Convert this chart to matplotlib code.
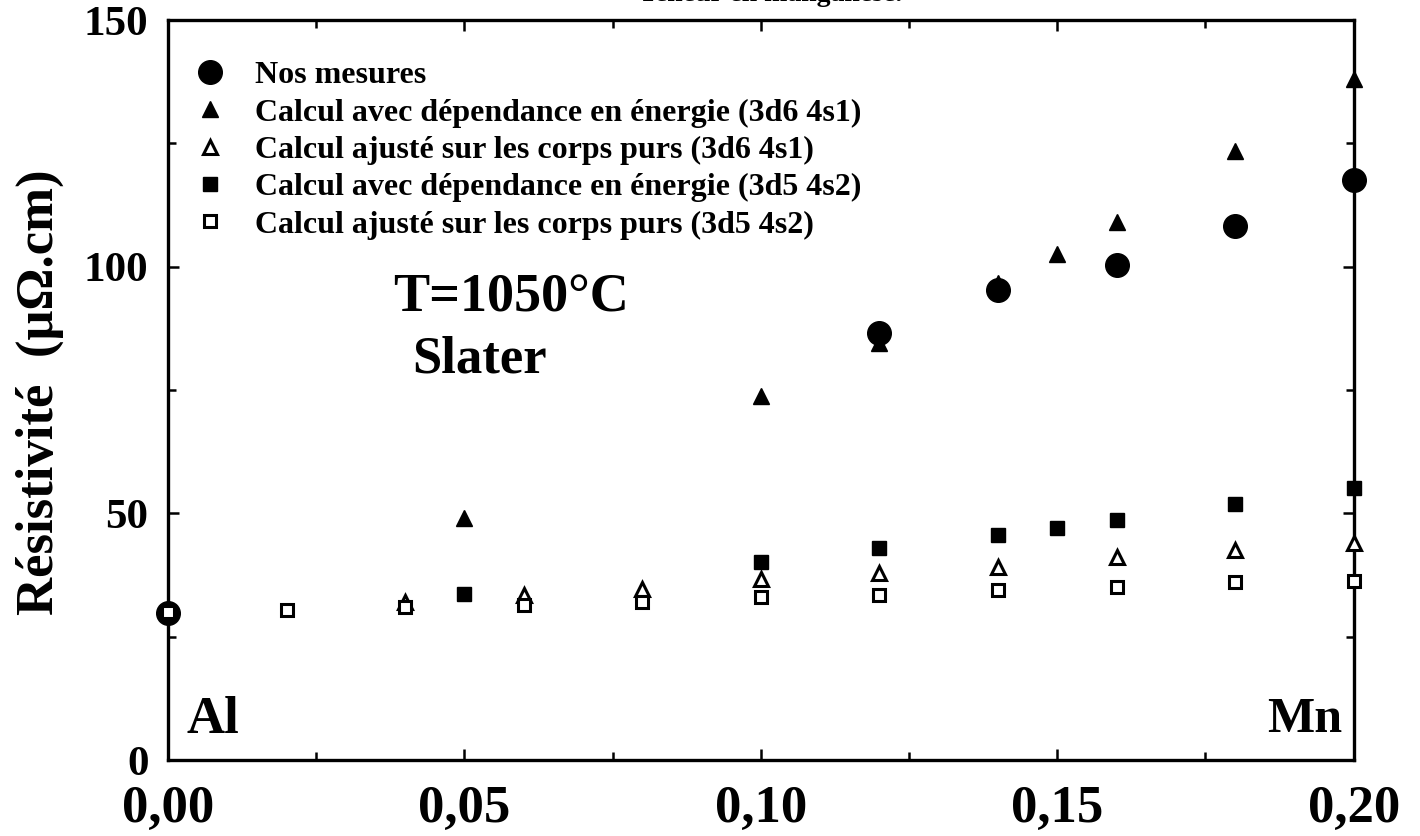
import numpy as np
import matplotlib
matplotlib.use('Agg')
import matplotlib.pyplot as plt
from matplotlib.ticker import MultipleLocator

plt.rcParams['font.family'] = ['Liberation Serif', 'DejaVu Serif']
plt.rcParams['font.weight'] = 'bold'

# Mn fraction and resistivity values (micro-ohm.cm)
mes_x = [0.0, 0.12, 0.14, 0.16, 0.18, 0.20]
mes_y = [29.8, 86.6, 95.3, 100.3, 108.3, 117.6]

e61_x = [0.05, 0.10, 0.12, 0.14, 0.15, 0.16, 0.18, 0.20]
e61_y = [49.1, 73.8, 84.5, 96.8, 102.6, 109.0, 123.5, 138.0]

a61_x = [0.04, 0.06, 0.08, 0.10, 0.12, 0.14, 0.16, 0.18, 0.20]
a61_y = [32.0, 33.4, 34.7, 36.7, 37.9, 39.1, 41.1, 42.6, 44.0]

e52_x = [0.05, 0.10, 0.12, 0.14, 0.15, 0.16, 0.18, 0.20]
e52_y = [33.6, 40.1, 43.0, 45.6, 47.0, 48.7, 52.0, 55.1]

a52_x = [0.0, 0.02, 0.04, 0.06, 0.08, 0.10, 0.12, 0.14, 0.16, 0.18, 0.20]
a52_y = [30.0, 30.4, 31.0, 31.4, 32.0, 33.0, 33.4, 34.5, 35.0, 36.1, 36.3]

labels = ['Nos mesures',
          'Calcul avec dépendance en énergie (3d6 4s1)',
          'Calcul ajusté sur les corps purs (3d6 4s1)',
          'Calcul avec dépendance en énergie (3d5 4s2)',
          'Calcul ajusté sur les corps purs (3d5 4s2)']

xticks = [0.0, 0.05, 0.10, 0.15, 0.20]
xticklabels = ['0,00', '0,05', '0,10', '0,15', '0,20']
yticks = [0, 50, 100, 150]

fig = plt.figure(figsize=(14.2, 8.36), dpi=100)
ax = fig.add_axes([0.1183, 0.0909, 0.835, 0.885])

h1 = ax.plot(mes_x, mes_y, 'o', color='black', ms=17, ls='none', clip_on=False, zorder=3)[0]
h2 = ax.plot(e61_x, e61_y, '^', color='black', ms=11, ls='none', clip_on=False, zorder=4)[0]
h4 = ax.plot(e52_x, e52_y, 's', color='black', ms=9.5, ls='none', clip_on=False, zorder=4)[0]
h3 = ax.plot(a61_x, a61_y, '^', mfc='white', mec='black', mew=2.2, ms=10, ls='none',
             clip_on=False, zorder=5)[0]
h5 = ax.plot(a52_x, a52_y, 's', mfc='white', mec='black', mew=2.2, ms=9, ls='none',
             clip_on=False, zorder=6)[0]

ax.set_xlim(0, 0.20)
ax.set_ylim(0, 150)
ax.set_xticks(xticks)
ax.set_xticklabels(xticklabels)
ax.xaxis.set_minor_locator(MultipleLocator(0.025))
ax.set_yticks(yticks)
ax.yaxis.set_minor_locator(MultipleLocator(25))
ax.tick_params(which='both', direction='in', top=True, right=True, width=1.8)
ax.tick_params(which='major', length=8)
ax.tick_params(which='minor', length=6)
ax.tick_params(axis='x', labelsize=38, pad=18)
ax.tick_params(axis='y', labelsize=31, pad=14)
for lab in ax.get_xticklabels() + ax.get_yticklabels():
    lab.set_fontweight('bold')
for sp in ax.spines.values():
    sp.set_linewidth(2.4)

leg = ax.legend([h1, h2, h3, h4, h5], labels, loc='upper left',
                bbox_to_anchor=(0.022, 0.945), frameon=False, fontsize=23,
                handlelength=1.0, handletextpad=0.9, labelspacing=0.25,
                borderpad=0, borderaxespad=0)
for t in leg.get_texts():
    t.set_fontweight('bold')

ax.text(0.289, 0.624, 'T=1050°C', transform=ax.transAxes, fontsize=39,
        fontweight='bold', ha='center', va='center')
ax.text(0.263, 0.541, 'Slater', transform=ax.transAxes, fontsize=38,
        fontweight='bold', ha='center', va='center')
ax.text(0.016, 0.054, 'Al', transform=ax.transAxes, fontsize=38,
        fontweight='bold', ha='left', va='center')
ax.text(0.99, 0.054, 'Mn', transform=ax.transAxes, fontsize=36,
        fontweight='bold', ha='right', va='center')

fig.text(0.028, 0.531, 'Résistivité  (μΩ.cm)', rotation=90, fontsize=38,
         fontweight='bold', ha='center', va='center')
# caption line clipped at the top edge, as in the scanned original
fig.text(0.543, 0.9985, 'Teneur en manganèse.', fontsize=20, ha='center', va='baseline')

fig.savefig('out.png', dpi=100)
